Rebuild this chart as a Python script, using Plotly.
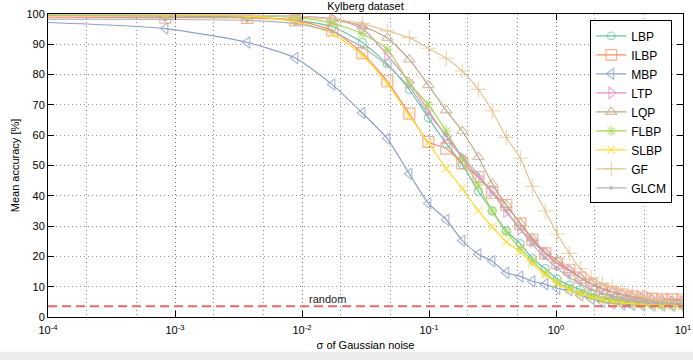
import plotly.graph_objects as go

# sigma of Gaussian noise (shared sampling grid)
sigma = [1e-4, 8.39e-4, 3.71e-3, 8.85e-3, 0.01733, 0.02985, 0.04695, 0.06997, 0.0988,
         0.1368, 0.1829, 0.2445, 0.3150, 0.4062, 0.5236, 0.6507, 0.8234, 1.024, 1.273,
         1.554, 1.897, 2.315, 2.776, 3.327, 3.99, 4.78, 5.73, 6.87, 8.24, 9.87]

LBP = [99.5, 99.3, 99.0, 98.0, 95.8, 90.6, 83.5, 75.0, 65.8, 57.2, 50.3, 41.5, 35.0, 28.4, 24.2,
       19.3, 16.0, 12.5, 10.5, 9.0, 7.5, 6.5, 5.8, 5.3, 5.0, 4.7, 4.5, 4.3, 4.2, 4.1]
ILBP = [99.0, 98.8, 98.7, 97.9, 94.6, 87.1, 77.8, 67.1, 57.8, 55.6, 50.7, 46.2, 41.0, 37.0, 30.8,
        25.5, 21.0, 17.8, 15.6, 13.0, 10.8, 9.3, 8.3, 7.4, 6.8, 6.4, 6.0, 5.8, 5.8, 5.7]
MBP = [97.2, 95.2, 90.6, 85.5, 76.7, 67.3, 58.9, 47.3, 37.5, 32.1, 25.2, 20.7, 18.4, 14.6, 13.4,
       11.8, 10.8, 9.4, 8.8, 7.2, 6.0, 5.0, 4.5, 4.2, 4.0, 3.9, 3.8, 3.8, 3.7, 3.7]
LTP = [99.8, 99.7, 99.6, 99.3, 98.5, 95.2, 86.4, 77.4, 68.2, 59.4, 52.5, 46.0, 41.5, 34.7, 29.0,
       25.0, 21.0, 17.5, 15.3, 13.0, 11.0, 9.5, 8.3, 7.3, 6.6, 6.0, 5.6, 5.3, 5.1, 5.0]
LQP = [99.8, 99.7, 99.5, 99.0, 98.3, 96.0, 92.1, 85.0, 76.5, 68.2, 61.3, 52.8, 44.0, 37.0, 31.0,
       26.0, 21.4, 18.7, 15.5, 13.0, 11.0, 9.5, 8.3, 7.5, 6.8, 6.3, 5.9, 5.6, 5.4, 5.2]
FLBP = [99.7, 99.6, 99.4, 99.0, 97.0, 93.5, 88.4, 77.3, 70.0, 61.3, 52.3, 43.5, 35.0, 28.0, 22.6,
        18.5, 14.5, 11.5, 9.5, 8.0, 7.0, 6.0, 5.3, 4.9, 4.5, 4.2, 4.0, 3.9, 3.8, 3.7]
SLBP = [100.0, 99.8, 99.3, 97.5, 93.5, 86.4, 77.0, 66.5, 57.5, 49.0, 42.4, 35.1, 29.7, 24.8, 21.5,
        17.6, 14.0, 11.0, 9.0, 7.5, 6.5, 5.7, 5.1, 4.7, 4.4, 4.2, 4.0, 3.9, 3.8, 3.8]
GF = [100.0, 99.8, 99.6, 99.2, 98.3, 96.8, 94.4, 92.2, 88.7, 85.4, 81.2, 75.1, 68.0, 59.3, 52.4,
      43.1, 35.0, 27.4, 21.0, 16.0, 13.0, 11.0, 9.8, 8.5, 7.5, 6.7, 6.0, 5.5, 5.2, 5.0]
GLCM = [98.3, 98.2, 97.9, 96.8, 94.2, 89.0, 83.0, 76.0, 67.0, 60.0, 53.0, 47.0, 41.0, 35.0, 29.0,
        24.0, 19.5, 16.0, 13.0, 11.0, 9.0, 7.8, 6.8, 6.0, 5.5, 5.1, 4.8, 4.6, 4.5, 4.4]

random_level = 100.0 / 28

names = ["LBP", "ILBP", "MBP", "LTP", "LQP", "FLBP", "SLBP", "GF", "GLCM"]
values = [LBP, ILBP, MBP, LTP, LQP, FLBP, SLBP, GF, GLCM]
colors = ["#66c2a5", "#fc8d62", "#8da0cb", "#e78ac3", "#bfa88a", "#a6d854", "#ffd92f",
          "#e5c494", "#b3b3b3"]
symbols = ["circle-open", "square-open", "triangle-left-open", "triangle-right-open",
           "triangle-up-open", "asterisk-open", "x-thin-open", "cross-thin-open", "circle"]
sizes = [8, 11, 10, 10, 10, 9, 8, 11, 3]

x_ticks = [1e-4, 1e-3, 1e-2, 1e-1, 1, 10]
x_ticktext = ["10<sup>-4</sup>", "10<sup>-3</sup>", "10<sup>-2</sup>", "10<sup>-1</sup>",
              "10<sup>0</sup>", "10<sup>1</sup>"]
y_ticks = [0, 10, 20, 30, 40, 50, 60, 70, 80, 90, 100]

FONT = "Liberation Sans, Arial, sans-serif"

fig = go.Figure()
for n, v, c, s, sz in zip(names, values, colors, symbols, sizes):
    msize = [0] + [sz] * (len(sigma) - 1)
    fig.add_trace(go.Scatter(
        x=sigma, y=v, name=n, mode="lines+markers",
        line=dict(color=c, width=1.2, shape="spline", smoothing=0.6),
        marker=dict(symbol=s, size=msize, color=c, line=dict(color=c, width=1.2)),
    ))

fig.add_shape(type="line", xref="paper", x0=0, x1=1, yref="y", y0=random_level, y1=random_level,
              line=dict(color="#e8676a", width=2, dash="9px,5px"))
fig.add_annotation(x=-1.96, y=random_level, xref="x", yref="y", text="random",
                   showarrow=False, xanchor="left", yanchor="bottom", yshift=-1,
                   font=dict(family=FONT, size=11, color="#222"))
# light grey strip at the bottom of the page
fig.add_shape(type="rect", xref="paper", yref="paper", x0=-0.2, x1=1.1, y0=-0.115, y1=-0.2,
              fillcolor="#ebebeb", line=dict(width=0), layer="below")

grid = "rgba(60,60,60,0.55)"
fig.update_xaxes(
    type="log", range=[-4, 1], tickvals=x_ticks, ticktext=x_ticktext,
    showline=True, linecolor="black", linewidth=1, mirror="ticks",
    ticks="inside", ticklen=6, tickcolor="black", ticklabelstandoff=3,
    showgrid=True, gridcolor=grid, griddash="1px,3px", gridwidth=1,
    minor=dict(showgrid=True, gridcolor=grid, griddash="1px,3px", gridwidth=1, ticks=""),
    tickfont=dict(family=FONT, size=11, color="black"),
    title=dict(text="σ of Gaussian noise", font=dict(family=FONT, size=11, color="black"), standoff=6),
    zeroline=False, automargin=False,
)
fig.update_yaxes(
    range=[0, 100], tickvals=y_ticks,
    showline=True, linecolor="black", linewidth=1, mirror="ticks",
    ticks="inside", ticklen=6, tickcolor="black",
    showgrid=True, gridcolor=grid, griddash="1px,3px", gridwidth=1,
    tickfont=dict(family=FONT, size=11, color="black"),
    title=dict(text="Mean accuracy [%]", font=dict(family=FONT, size=11, color="black"), standoff=4),
    zeroline=False, automargin=False,
)
fig.update_layout(
    width=693, height=360,
    margin=dict(l=48, r=10, t=14, b=43, autoexpand=False),
    paper_bgcolor="white", plot_bgcolor="white",
    title=dict(text="Kylberg dataset", x=0.5, xref="paper", y=1 - 6 / 360, yref="container",
               yanchor="middle", font=dict(family=FONT, size=11, color="black"), automargin=False),
    legend=dict(x=0.854, y=0.979, xanchor="left", yanchor="top", bgcolor="white",
                bordercolor="black", borderwidth=1,
                font=dict(family=FONT, size=12, color="black"), itemwidth=30),
    showlegend=True,
)
fig.write_html("out.html", config={"displayModeBar": False},
               post_script="document.body.style.margin='0';")
